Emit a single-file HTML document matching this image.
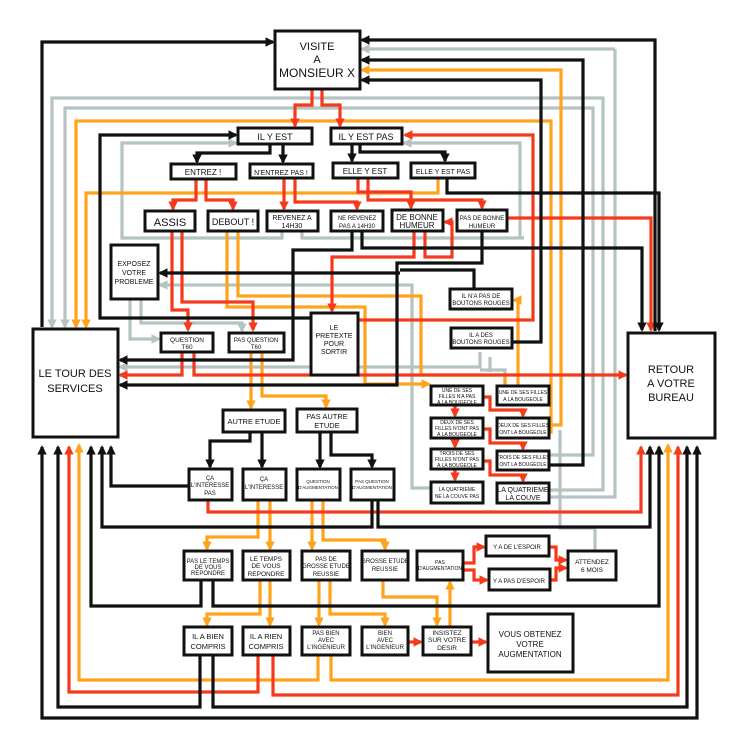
<!DOCTYPE html>
<html><head><meta charset="utf-8"><style>
html,body{margin:0;padding:0;background:#fff;}
svg{display:block}
text{font-family:"Liberation Sans",sans-serif;fill:#111;text-anchor:middle;}
.k{stroke:#111}.r{stroke:#f53a1c}.o{stroke:#ffa21c}.g{stroke:#b5c3c3}
polyline{fill:none;stroke-width:3.2;stroke-linejoin:miter}
rect{fill:#fff;stroke:#111;stroke-width:3}
</style></head><body>
<svg width="750" height="750" viewBox="0 0 750 750" xmlns="http://www.w3.org/2000/svg">
<defs>
<marker id="ak" viewBox="0 0 10 10" refX="8" refY="5" markerWidth="3" markerHeight="3" orient="auto-start-reverse"><path d="M0,0L10,5L0,10z" fill="#111"/></marker>
<marker id="ar" viewBox="0 0 10 10" refX="8" refY="5" markerWidth="3" markerHeight="3" orient="auto-start-reverse"><path d="M0,0L10,5L0,10z" fill="#f53a1c"/></marker>
<marker id="ao" viewBox="0 0 10 10" refX="8" refY="5" markerWidth="3" markerHeight="3" orient="auto-start-reverse"><path d="M0,0L10,5L0,10z" fill="#ffa21c"/></marker>
<marker id="ag" viewBox="0 0 10 10" refX="8" refY="5" markerWidth="3" markerHeight="3" orient="auto-start-reverse"><path d="M0,0L10,5L0,10z" fill="#b5c3c3"/></marker>
</defs>

<!-- gray lines -->
<polyline class="g" points="615,49 615,497 549,497" />
<polyline class="g" points="615,49 362,49" marker-end="url(#ag)"/>
<polyline class="g" points="52,327 52,98 603,98 603,490 549,490" marker-start="url(#ag)"/>
<polyline class="g" points="65,327 65,108 593,108 593,455 549,455" marker-start="url(#ag)"/>
<polyline class="g" points="595,551 595,528 560,528 560,430"/>
<polyline class="g" points="520,237 520,143 404,143" marker-end="url(#ag)"/>
<polyline class="g" points="282,231 282,238 122,238 122,143 236,143" marker-end="url(#ag)"/>
<polyline class="g" points="302,231 302,238 524,238"/>
<polyline class="g" points="130,299 130,339 159,339" marker-end="url(#ag)"/>
<polyline class="g" points="141,299 141,323 242,323 242,331" marker-end="url(#ag)"/>
<polyline class="g" points="160,285 412,285 412,488 430,488" marker-start="url(#ag)"/>
<polyline class="g" points="120,367 480,367 480,352" marker-start="url(#ag)"/>
<polyline class="g" points="490,372 490,357"/>
<polyline class="g" points="505,386 505,370 480,370"/>

<!-- orange lines -->
<polyline class="o" points="362,70 561,70 561,425 549,425" marker-start="url(#ao)"/>
<polyline class="o" points="76,327 76,121 551,121 551,432 549,432" marker-start="url(#ao)"/>
<polyline class="o" points="86,327 86,193 438,193 438,178" marker-start="url(#ao)"/>
<polyline class="o" points="227,231 227,307 365,307 365,384 429,384" marker-end="url(#ao)"/>
<polyline class="o" points="238,231 238,296 421,296 421,375 505,375 505,384"/>
<polyline class="o" points="518,386 518,300 514,300" marker-end="url(#ao)"/>
<polyline class="o" points="251,352 251,408" marker-end="url(#ao)"/>
<polyline class="o" points="262,352 262,396 326,396 326,407" marker-end="url(#ao)"/>
<polyline class="o" points="258,500 258,537 207,537 207,549" marker-end="url(#ao)"/>
<polyline class="o" points="270,500 270,549" marker-end="url(#ao)"/>
<polyline class="o" points="312,500 312,549" marker-end="url(#ao)"/>
<polyline class="o" points="323,500 323,540 385,540 385,549" marker-end="url(#ao)"/>
<polyline class="o" points="260,580 260,614 207,614 207,625" marker-end="url(#ao)"/>
<polyline class="o" points="270,580 270,625" marker-end="url(#ao)"/>
<polyline class="o" points="319,580 319,625" marker-end="url(#ao)"/>
<polyline class="o" points="330,580 330,614 385,614 385,625" marker-end="url(#ao)"/>
<polyline class="o" points="383,580 383,597 437,597 437,625" marker-end="url(#ao)"/>
<polyline class="o" points="450,627 450,582" marker-end="url(#ao)"/>
<polyline class="o" points="318,655 318,680 79,680 79,445" marker-end="url(#ao)"/>
<polyline class="o" points="331,655 331,680 668,680 668,445" marker-end="url(#ao)"/>

<!-- red lines -->
<polyline class="r" points="312,89 312,105 295,105 295,126" marker-end="url(#ar)"/>
<polyline class="r" points="322,89 322,105 340,105 340,126" marker-end="url(#ar)"/>
<polyline class="r" points="196,179 196,200 173,200 173,209" marker-end="url(#ar)"/>
<polyline class="r" points="206,179 206,200 233,200 233,209" marker-end="url(#ar)"/>
<polyline class="r" points="284,178 284,209" marker-end="url(#ar)"/>
<polyline class="r" points="295,178 295,202 357,202 357,209" marker-end="url(#ar)"/>
<polyline class="r" points="358,178 358,192 411,192 411,208" marker-end="url(#ar)"/>
<polyline class="r" points="368,178 368,200 482,200 482,208" marker-end="url(#ar)"/>
<polyline class="r" points="507,218 651,218 651,330" marker-end="url(#ar)"/>
<polyline class="r" points="414,231 414,257 332,257 332,311" marker-end="url(#ar)"/>
<polyline class="r" points="425,231 425,257 452,257 452,222 445,222" marker-end="url(#ar)"/>
<polyline class="r" points="358,320 533,320 533,135 405,135" marker-end="url(#ar)"/>
<polyline class="r" points="172,231 172,310 188,310 188,330" marker-end="url(#ar)"/>
<polyline class="r" points="182,231 182,302 253,302 253,330" marker-end="url(#ar)"/>
<polyline class="r" points="182,352 182,375 120,375" marker-end="url(#ar)"/>
<polyline class="r" points="194,352 194,375 626,375" marker-end="url(#ar)"/>
<polyline class="r" points="208,500 208,512 641,512 641,447" marker-end="url(#ar)"/>
<polyline class="r" points="258,655 258,692 69,692 69,447" marker-end="url(#ar)"/>
<polyline class="r" points="273,655 273,695 678,695 678,447" marker-end="url(#ar)"/>
<polyline class="r" points="455,405 455,416" marker-end="url(#ar)"/>
<polyline class="r" points="455,438 455,447" marker-end="url(#ar)"/>
<polyline class="r" points="455,469 455,480" marker-end="url(#ar)"/>
<polyline class="r" points="483,397 490,397 490,410 523,410 523,416" marker-end="url(#ar)"/>
<polyline class="r" points="483,429 490,429 490,443 523,443 523,449" marker-end="url(#ar)"/>
<polyline class="r" points="483,461 490,461 490,475 523,475 523,481" marker-end="url(#ar)"/>
<polyline class="r" points="463,563 474,563 474,547 484,547" marker-end="url(#ar)"/>
<polyline class="r" points="463,570 474,570 474,580 487,580" marker-end="url(#ar)"/>
<polyline class="r" points="549,547 556,547 556,560 566,560" marker-end="url(#ar)"/>
<polyline class="r" points="550,580 556,580 556,568 566,568" marker-end="url(#ar)"/>
<polyline class="r" points="408,642 421,642" marker-end="url(#ar)"/>
<polyline class="r" points="471,642 486,642" marker-end="url(#ar)"/>

<!-- black lines -->
<polyline class="k" points="42,327 42,42 273,42" marker-end="url(#ak)"/>
<polyline class="k" points="655,331 655,40 362,40" marker-end="url(#ak)"/>
<polyline class="k" points="549,465 583,465 583,60 362,60" marker-end="url(#ak)"/>
<polyline class="k" points="512,342 541,342 541,80 362,80" marker-end="url(#ak)"/>
<polyline class="k" points="270,144 270,153 197,153 197,162" marker-end="url(#ak)"/>
<polyline class="k" points="283,144 283,162" marker-end="url(#ak)"/>
<polyline class="k" points="352,144 352,161" marker-end="url(#ak)"/>
<polyline class="k" points="360,144 360,152 445,152 445,161" marker-end="url(#ak)"/>
<polyline class="k" points="447,178 447,193 659,193 659,330" marker-end="url(#ak)"/>
<polyline class="k" points="362,231 362,248 642,248 642,330" marker-end="url(#ak)"/>
<polyline class="k" points="352,231 352,250 293,250 293,360 120,360" marker-end="url(#ak)"/>
<polyline class="k" points="482,231 482,263 397,263 397,385 120,385" marker-end="url(#ak)"/>
<polyline class="k" points="474,289 474,270 400,270"/>
<polyline class="k" points="400,273 160,273" marker-end="url(#ak)"/>
<polyline class="k" points="311,318 100,318 100,135 236,135" marker-end="url(#ak)"/>
<polyline class="k" points="250,432 250,441 210,441 210,467" marker-end="url(#ak)"/>
<polyline class="k" points="262,432 262,467" marker-end="url(#ak)"/>
<polyline class="k" points="320,432 320,467" marker-end="url(#ak)"/>
<polyline class="k" points="331,432 331,455 372,455 372,467" marker-end="url(#ak)"/>
<polyline class="k" points="189,486 111,486 111,447" marker-end="url(#ak)"/>
<polyline class="k" points="372,500 372,527 102,527 102,447" marker-end="url(#ak)"/>
<polyline class="k" points="378,500 378,527 650,527 650,447" marker-end="url(#ak)"/>
<polyline class="k" points="201,580 201,606 91,606 91,447" marker-end="url(#ak)"/>
<polyline class="k" points="213,580 213,606 659,606 659,447" marker-end="url(#ak)"/>
<polyline class="k" points="200,655 200,707 58,707 58,447" marker-end="url(#ak)"/>
<polyline class="k" points="213,655 213,707 687,707 687,447" marker-end="url(#ak)"/>
<polyline class="k" points="42,447 42,718 697,718 697,447" marker-start="url(#ak)" marker-end="url(#ak)"/>

<!-- boxes -->
<g>
<rect x="275" y="31" width="85" height="58"/>
<rect x="238" y="128" width="74" height="16"/>
<rect x="331" y="128" width="71" height="16"/>
<rect x="171" y="164" width="65" height="15"/>
<rect x="250" y="164" width="63" height="14"/>
<rect x="333" y="163" width="65" height="15"/>
<rect x="411" y="163" width="64" height="15"/>
<rect x="145" y="211" width="50" height="20"/>
<rect x="208" y="211" width="50" height="20"/>
<rect x="267" y="211" width="51" height="20"/>
<rect x="331" y="211" width="52" height="20"/>
<rect x="392" y="210" width="51" height="21"/>
<rect x="457" y="210" width="50" height="21"/>
<rect x="111" y="245" width="47" height="54"/>
<rect x="450" y="289" width="62" height="20"/>
<rect x="451" y="328" width="61" height="20"/>
<rect x="311" y="313" width="47" height="62"/>
<rect x="161" y="333" width="52" height="19"/>
<rect x="229" y="333" width="55" height="19"/>
<rect x="33" y="329" width="85" height="108"/>
<rect x="628" y="333" width="87" height="105"/>
<rect x="431" y="386" width="52" height="19"/>
<rect x="497" y="386" width="52" height="19"/>
<rect x="431" y="418" width="52" height="20"/>
<rect x="497" y="418" width="52" height="20"/>
<rect x="431" y="449" width="52" height="20"/>
<rect x="497" y="451" width="52" height="19"/>
<rect x="431" y="482" width="52" height="21"/>
<rect x="497" y="483" width="52" height="20"/>
<rect x="223" y="410" width="62" height="22"/>
<rect x="297" y="409" width="60" height="23"/>
<rect x="189" y="469" width="43" height="31"/>
<rect x="243" y="469" width="43" height="31"/>
<rect x="297" y="469" width="43" height="31"/>
<rect x="351" y="469" width="43" height="31"/>
<rect x="184" y="551" width="48" height="29"/>
<rect x="243" y="551" width="47" height="29"/>
<rect x="302" y="551" width="48" height="29"/>
<rect x="362" y="551" width="46" height="29"/>
<rect x="417" y="551" width="46" height="29"/>
<rect x="486" y="536" width="63" height="20"/>
<rect x="489" y="569" width="61" height="21"/>
<rect x="568" y="551" width="48" height="29"/>
<rect x="184" y="627" width="48" height="28"/>
<rect x="243" y="627" width="47" height="28"/>
<rect x="302" y="627" width="48" height="28"/>
<rect x="362" y="627" width="46" height="28"/>
<rect x="423" y="627" width="48" height="28"/>
<rect x="488" y="614" width="85" height="58"/>
</g>

<!-- labels -->
<g font-size="11">
<text x="317" y="50">VISITE</text><text x="317" y="63">A</text><text x="317" y="77" font-size="12">MONSIEUR X</text>
<text x="275" y="140" font-size="9">IL Y EST</text>
<text x="366" y="140" font-size="9">IL Y EST PAS</text>
<text x="203" y="175" font-size="8">ENTREZ !</text>
<text x="281" y="175" font-size="7">N'ENTREZ PAS !</text>
<text x="365" y="174" font-size="8">ELLE Y EST</text>
<text x="443" y="174" font-size="7">ELLE Y EST PAS</text>
<text x="170" y="226" font-size="11">ASSIS</text>
<text x="233" y="225" font-size="9">DEBOUT !</text>
<text x="292" y="220" font-size="7">REVENEZ A</text><text x="292" y="228" font-size="7">14H30</text>
<text x="357" y="220" font-size="6">NE REVENEZ</text><text x="357" y="228" font-size="6">PAS A 14H30</text>
<text x="417" y="220" font-size="8">DE BONNE</text><text x="417" y="228" font-size="8">HUMEUR</text>
<text x="482" y="220" font-size="6">PAS DE BONNE</text><text x="482" y="228" font-size="6">HUMEUR</text>
<text x="134" y="266" font-size="7">EXPOSEZ</text><text x="134" y="275" font-size="7">VOTRE</text><text x="134" y="284" font-size="7">PROBLEME</text>
<text x="481" y="298" font-size="6">IL N'A PAS DE</text><text x="481" y="305" font-size="6">BOUTONS ROUGES</text>
<text x="481" y="337" font-size="6">IL A DES</text><text x="481" y="344" font-size="6">BOUTONS ROUGES</text>
<text x="334" y="330" font-size="7">LE</text><text x="334" y="338" font-size="7">PRETEXTE</text><text x="334" y="346" font-size="7">POUR</text><text x="334" y="354" font-size="7">SORTIR</text>
<text x="187" y="342" font-size="6.5">QUESTION</text><text x="187" y="349" font-size="6.5">T60</text>
<text x="256" y="342" font-size="6">PAS QUESTION</text><text x="256" y="349" font-size="6">T60</text>
<text x="75" y="377" font-size="11">LE TOUR DES</text><text x="75" y="392" font-size="11">SERVICES</text>
<text x="671" y="373" font-size="11">RETOUR</text><text x="671" y="387" font-size="11">A VOTRE</text><text x="671" y="401" font-size="11">BUREAU</text>
<g font-size="5">
<text x="457" y="392">UNE DE SES</text><text x="457" y="398">FILLES N'A PAS</text><text x="457" y="404">A LA BOUGEOLE</text>
<text x="523" y="394">UNE DE SES FILLES</text><text x="523" y="401">A LA BOUGEOLE</text>
<text x="457" y="424">DEUX DE SES</text><text x="457" y="430">FILLES N'ONT PAS</text><text x="457" y="436">A LA BOUGEOLE</text>
<text x="523" y="427">DEUX DE SES FILLES</text><text x="523" y="434">ONT LA BOUGEOLE</text>
<text x="457" y="455">TROIS DE SES</text><text x="457" y="461">FILLES N'ONT PAS</text><text x="457" y="467">A LA BOUGEOLE</text>
<text x="523" y="459">TROIS DE SES FILLES</text><text x="523" y="466">ONT LA BOUGEOLE</text>
<text x="457" y="491">LA QUATRIEME</text><text x="457" y="498">NE LA COUVE PAS</text>
</g>
<text x="523" y="492" font-size="7">LA QUATRIEME</text><text x="523" y="500" font-size="7">LA COUVE</text>
<text x="254" y="424" font-size="7.5">AUTRE ETUDE</text>
<text x="327" y="419" font-size="7.5">PAS AUTRE</text><text x="327" y="428" font-size="7.5">ETUDE</text>
<g font-size="6">
<text x="210" y="480">ÇA</text><text x="210" y="487">L'INTERESSE</text><text x="210" y="495">PAS</text>
<text x="264" y="481">ÇA</text><text x="264" y="489">L'INTERESSE</text>
<text x="318" y="483" font-size="4.5">QUESTION</text><text x="318" y="489" font-size="4.5">D'AUGMENTATION</text>
<text x="372" y="483" font-size="4.5">PAS QUESTION</text><text x="372" y="489" font-size="4.5">D'AUGMENTATION</text>
<text x="208" y="563">PAS LE TEMPS</text><text x="208" y="569">DE VOUS</text><text x="208" y="575">REPONDRE</text>
<text x="266" y="561" font-size="6.5">LE TEMPS</text><text x="266" y="568" font-size="6.5">DE VOUS</text><text x="266" y="576" font-size="6.5">REPONDRE</text>
<text x="326" y="561">PAS DE</text><text x="326" y="568">GROSSE ETUDE</text><text x="326" y="576">REUSSIE</text>
<text x="385" y="563">GROSSE ETUDE</text><text x="385" y="571">REUSSIE</text>
<text x="440" y="564" font-size="5">PAS</text><text x="440" y="570" font-size="5">D'AUGMENTATION</text>
<text x="517" y="549">Y A DE L'ESPOIR</text>
<text x="519" y="583">Y A PAS D'ESPOIR</text>
<text x="592" y="564" font-size="6.5">ATTENDEZ</text><text x="592" y="572" font-size="6.5">6 MOIS</text>
<text x="208" y="639" font-size="7.5">IL A BIEN</text><text x="208" y="649" font-size="7.5">COMPRIS</text>
<text x="266" y="639" font-size="7.5">IL A RIEN</text><text x="266" y="649" font-size="7.5">COMPRIS</text>
<text x="326" y="635">PAS BIEN</text><text x="326" y="642">AVEC</text><text x="326" y="649">L'INGENIEUR</text>
<text x="385" y="635">BIEN</text><text x="385" y="642">AVEC</text><text x="385" y="649">L'INGENIEUR</text>
<text x="447" y="635" font-size="6.5">INSISTEZ</text><text x="447" y="642" font-size="6.5">SUR VOTRE</text><text x="447" y="650" font-size="6.5">DESIR</text>
</g>
<text x="530" y="637" font-size="8">VOUS OBTENEZ</text><text x="530" y="647" font-size="8">VOTRE</text><text x="530" y="657" font-size="8">AUGMENTATION</text>
</g>
</svg>
</body></html>
